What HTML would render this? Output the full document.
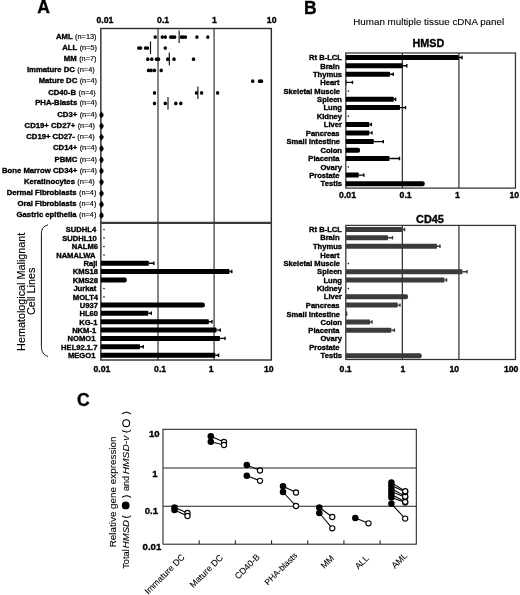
<!DOCTYPE html>
<html lang="en">
<head>
<meta charset="utf-8">
<title>Figure</title>
<style>
html,body{margin:0;padding:0;background:#fff;}
body{width:520px;height:595px;overflow:hidden;}
svg{display:block;font-family:"Liberation Sans", Arial, sans-serif;will-change:transform;}
</style>
</head>
<body>
<svg width="520" height="595" viewBox="0 0 520 595">
<defs><filter id="soft" x="0" y="0" width="520" height="595" filterUnits="userSpaceOnUse"><feGaussianBlur stdDeviation="0.45"/></filter></defs>
<rect x="0" y="0" width="520" height="595" fill="#fff"/>
<g filter="url(#soft)">
<text x="37.3" y="12.7" font-size="17.5" text-anchor="start" font-weight="bold" fill="#000"  stroke="#000" stroke-width="0.35">A</text>
<text x="96.5" y="23.1" font-size="8.7" text-anchor="start" font-weight="bold" fill="#000"  stroke="#000" stroke-width="0.35">0.01</text>
<text x="157.1" y="23.1" font-size="8.7" text-anchor="start" font-weight="bold" fill="#000"  stroke="#000" stroke-width="0.35">0.1</text>
<text x="212.1" y="23.1" font-size="8.7" text-anchor="start" font-weight="bold" fill="#000"  stroke="#000" stroke-width="0.35">1</text>
<text x="266.8" y="23.1" font-size="8.7" text-anchor="start" font-weight="bold" fill="#000"  stroke="#000" stroke-width="0.35">10</text>
<text x="93.5" y="372.2" font-size="8.7" text-anchor="start" font-weight="bold" fill="#000"  stroke="#000" stroke-width="0.35">0.01</text>
<text x="154.1" y="372.2" font-size="8.7" text-anchor="start" font-weight="bold" fill="#000"  stroke="#000" stroke-width="0.35">0.1</text>
<text x="208.8" y="372.2" font-size="8.7" text-anchor="start" font-weight="bold" fill="#000"  stroke="#000" stroke-width="0.35">1</text>
<text x="264" y="372.2" font-size="8.7" text-anchor="start" font-weight="bold" fill="#000"  stroke="#000" stroke-width="0.35">10</text>
<g stroke="#5c5c5c" stroke-width="1.5" fill="none">
<line x1="158.0" y1="28.5" x2="158.0" y2="360"/>
<line x1="214.1" y1="28.5" x2="214.1" y2="360"/>
</g>
<rect x="100.85" y="28.5" width="170.50000000000003" height="331.5" stroke="#2a2a2a" stroke-width="1.4" fill="none"/>
<line x1="100.85" y1="222.8" x2="271.35" y2="222.8" stroke="#3a3a3a" stroke-width="2.2"/>
<text x="96.5" y="39.2" font-size="7.6" text-anchor="end"><tspan font-weight="bold" stroke="#000" stroke-width="0.35" font-size="7.72">AML</tspan><tspan font-size="7.35" dx="2.4" stroke="#000" stroke-width="0.15">(n=13)</tspan></text>
<text x="97" y="50.2" font-size="7.6" text-anchor="end"><tspan font-weight="bold" stroke="#000" stroke-width="0.35" font-size="7.72">ALL</tspan><tspan font-size="7.35" dx="2.4" stroke="#000" stroke-width="0.15">(n=5)</tspan></text>
<text x="96.5" y="61.2" font-size="7.6" text-anchor="end"><tspan font-weight="bold" stroke="#000" stroke-width="0.35" font-size="7.72">MM</tspan><tspan font-size="7.35" dx="2.4" stroke="#000" stroke-width="0.15">(n=7)</tspan></text>
<text x="94.7" y="72.2" font-size="7.6" text-anchor="end"><tspan font-weight="bold" stroke="#000" stroke-width="0.35" font-size="7.72">Immature DC</tspan><tspan font-size="7.35" dx="2.4" stroke="#000" stroke-width="0.15">(n=4)</tspan></text>
<text x="97" y="83.4" font-size="7.6" text-anchor="end"><tspan font-weight="bold" stroke="#000" stroke-width="0.35" font-size="7.72">Mature DC</tspan><tspan font-size="7.35" dx="2.4" stroke="#000" stroke-width="0.15">(n=4)</tspan></text>
<text x="95.8" y="94.5" font-size="7.6" text-anchor="end"><tspan font-weight="bold" stroke="#000" stroke-width="0.35" font-size="7.72">CD40-B</tspan><tspan font-size="7.35" dx="2.4" stroke="#000" stroke-width="0.15">(n=4)</tspan></text>
<text x="97" y="105.4" font-size="7.6" text-anchor="end"><tspan font-weight="bold" stroke="#000" stroke-width="0.35" font-size="7.72">PHA-Blasts</tspan><tspan font-size="7.35" dx="2.4" stroke="#000" stroke-width="0.15">(n=4)</tspan></text>
<text x="97" y="116.8" font-size="7.6" text-anchor="end"><tspan font-weight="bold" stroke="#000" stroke-width="0.35" font-size="7.72">CD3+</tspan><tspan font-size="7.35" dx="2.4" stroke="#000" stroke-width="0.15">(n=4)</tspan></text>
<text x="95" y="127.9" font-size="7.6" text-anchor="end"><tspan font-weight="bold" stroke="#000" stroke-width="0.35" font-size="7.72">CD19+ CD27+</tspan><tspan font-size="7.35" dx="2.4" stroke="#000" stroke-width="0.15">(n=4)</tspan></text>
<text x="94.7" y="139.0" font-size="7.6" text-anchor="end"><tspan font-weight="bold" stroke="#000" stroke-width="0.35" font-size="7.72">CD19+ CD27-</tspan><tspan font-size="7.35" dx="2.4" stroke="#000" stroke-width="0.15">(n=4)</tspan></text>
<text x="97" y="150.39999999999998" font-size="7.6" text-anchor="end"><tspan font-weight="bold" stroke="#000" stroke-width="0.35" font-size="7.72">CD14+</tspan><tspan font-size="7.35" dx="2.4" stroke="#000" stroke-width="0.15">(n=4)</tspan></text>
<text x="97" y="161.6" font-size="7.6" text-anchor="end"><tspan font-weight="bold" stroke="#000" stroke-width="0.35" font-size="7.72">PBMC</tspan><tspan font-size="7.35" dx="2.4" stroke="#000" stroke-width="0.15">(n=4)</tspan></text>
<text x="97" y="172.79999999999998" font-size="7.6" text-anchor="end"><tspan font-weight="bold" stroke="#000" stroke-width="0.35" font-size="7.72">Bone Marrow CD34+</tspan><tspan font-size="7.35" dx="2.4" stroke="#000" stroke-width="0.15">(n=4)</tspan></text>
<text x="94.7" y="184.0" font-size="7.6" text-anchor="end"><tspan font-weight="bold" stroke="#000" stroke-width="0.35" font-size="7.72">Keratinocytes</tspan><tspan font-size="7.35" dx="2.4" stroke="#000" stroke-width="0.15">(n=4)</tspan></text>
<text x="96.4" y="195.2" font-size="7.6" text-anchor="end"><tspan font-weight="bold" stroke="#000" stroke-width="0.35" font-size="7.72">Dermal Fibroblasts</tspan><tspan font-size="7.35" dx="2.4" stroke="#000" stroke-width="0.15">(n=4)</tspan></text>
<text x="96.4" y="206.2" font-size="7.6" text-anchor="end"><tspan font-weight="bold" stroke="#000" stroke-width="0.35" font-size="7.72">Oral Fibroblasts</tspan><tspan font-size="7.35" dx="2.4" stroke="#000" stroke-width="0.15">(n=4)</tspan></text>
<text x="96.4" y="217.2" font-size="7.6" text-anchor="end"><tspan font-weight="bold" stroke="#000" stroke-width="0.35" font-size="7.72">Gastric epithelia</tspan><tspan font-size="7.35" dx="2.4" stroke="#000" stroke-width="0.15">(n=4)</tspan></text>
<g fill="#000">
<ellipse cx="155.2" cy="37.1" rx="1.7" ry="1.85"/>
<ellipse cx="162.3" cy="37.1" rx="1.7" ry="1.85"/>
<ellipse cx="165.3" cy="37.1" rx="1.7" ry="1.85"/>
<ellipse cx="170.7" cy="37.1" rx="1.7" ry="1.85"/>
<ellipse cx="172.7" cy="37.1" rx="1.7" ry="1.85"/>
<ellipse cx="174.7" cy="37.1" rx="1.7" ry="1.85"/>
<ellipse cx="181.4" cy="37.1" rx="1.7" ry="1.85"/>
<ellipse cx="183.2" cy="37.1" rx="1.7" ry="1.85"/>
<ellipse cx="185.5" cy="37.1" rx="1.7" ry="1.85"/>
<ellipse cx="196.9" cy="37.1" rx="1.7" ry="1.85"/>
<ellipse cx="207.8" cy="37.1" rx="1.7" ry="1.85"/>
<ellipse cx="138.8" cy="48" rx="1.7" ry="1.85"/>
<ellipse cx="140.6" cy="48" rx="1.7" ry="1.85"/>
<ellipse cx="145.5" cy="48" rx="1.7" ry="1.85"/>
<ellipse cx="147.5" cy="48" rx="1.7" ry="1.85"/>
<ellipse cx="165.3" cy="48" rx="1.7" ry="1.85"/>
<ellipse cx="147.8" cy="59.2" rx="1.7" ry="1.85"/>
<ellipse cx="151.8" cy="59.2" rx="1.7" ry="1.85"/>
<ellipse cx="156.5" cy="59.2" rx="1.7" ry="1.85"/>
<ellipse cx="158.5" cy="59.2" rx="1.7" ry="1.85"/>
<ellipse cx="167.7" cy="59.2" rx="1.7" ry="1.85"/>
<ellipse cx="174" cy="59.2" rx="1.7" ry="1.85"/>
<ellipse cx="193.5" cy="59.2" rx="1.7" ry="1.85"/>
<ellipse cx="148.5" cy="70.4" rx="1.7" ry="1.85"/>
<ellipse cx="151.2" cy="70.4" rx="1.7" ry="1.85"/>
<ellipse cx="154.5" cy="70.4" rx="1.7" ry="1.85"/>
<ellipse cx="161.2" cy="70.4" rx="1.7" ry="1.85"/>
<ellipse cx="252.7" cy="81.2" rx="1.7" ry="1.85"/>
<ellipse cx="259.6" cy="81.2" rx="1.7" ry="1.85"/>
<ellipse cx="261.5" cy="81.2" rx="1.7" ry="1.85"/>
<ellipse cx="154.5" cy="92.9" rx="1.7" ry="1.85"/>
<ellipse cx="196.5" cy="92.9" rx="1.7" ry="1.85"/>
<ellipse cx="201.6" cy="92.9" rx="1.7" ry="1.85"/>
<ellipse cx="217.6" cy="92.9" rx="1.7" ry="1.85"/>
<ellipse cx="154.5" cy="103.4" rx="1.7" ry="1.85"/>
<ellipse cx="165.3" cy="103.4" rx="1.7" ry="1.85"/>
<ellipse cx="175.8" cy="103.4" rx="1.7" ry="1.85"/>
<ellipse cx="180.8" cy="103.4" rx="1.7" ry="1.85"/>
</g>
<g stroke="#111" stroke-width="1.15">
<line x1="179.1" y1="30.6" x2="179.1" y2="43.1"/>
<line x1="150.5" y1="41.5" x2="150.5" y2="54"/>
<line x1="169.3" y1="52.7" x2="169.3" y2="65.2"/>
<line x1="197.9" y1="86.4" x2="197.9" y2="98.9"/>
<line x1="168" y1="96.9" x2="168" y2="109.4"/>
</g>
<g fill="#000">
<path d="M101.5 111.5 L102.2 112.4 L103.5 114.1 L103.5 115.9 L102.2 117.6 L101.5 118.5 L100.8 117.6 L99.5 115.9 L99.5 114.1 L100.8 112.4 Z"/>
<path d="M101.5 122.60000000000001 L102.2 123.50000000000001 L103.5 125.2 L103.5 127.00000000000001 L102.2 128.70000000000002 L101.5 129.60000000000002 L100.8 128.70000000000002 L99.5 127.00000000000001 L99.5 125.2 L100.8 123.50000000000001 Z"/>
<path d="M101.5 133.70000000000002 L102.2 134.60000000000002 L103.5 136.3 L103.5 138.10000000000002 L102.2 139.8 L101.5 140.70000000000002 L100.8 139.8 L99.5 138.10000000000002 L99.5 136.3 L100.8 134.60000000000002 Z"/>
<path d="M101.5 145.1 L102.2 146.0 L103.5 147.7 L103.5 149.5 L102.2 151.2 L101.5 152.1 L100.8 151.2 L99.5 149.5 L99.5 147.7 L100.8 146.0 Z"/>
<path d="M101.5 156.3 L102.2 157.20000000000002 L103.5 158.9 L103.5 160.70000000000002 L102.2 162.4 L101.5 163.3 L100.8 162.4 L99.5 160.70000000000002 L99.5 158.9 L100.8 157.20000000000002 Z"/>
<path d="M101.5 167.5 L102.2 168.4 L103.5 170.1 L103.5 171.9 L102.2 173.6 L101.5 174.5 L100.8 173.6 L99.5 171.9 L99.5 170.1 L100.8 168.4 Z"/>
<path d="M101.5 178.70000000000002 L102.2 179.60000000000002 L103.5 181.3 L103.5 183.10000000000002 L102.2 184.8 L101.5 185.70000000000002 L100.8 184.8 L99.5 183.10000000000002 L99.5 181.3 L100.8 179.60000000000002 Z"/>
<path d="M101.5 189.9 L102.2 190.8 L103.5 192.5 L103.5 194.3 L102.2 196.0 L101.5 196.9 L100.8 196.0 L99.5 194.3 L99.5 192.5 L100.8 190.8 Z"/>
<path d="M101.5 200.9 L102.2 201.8 L103.5 203.5 L103.5 205.3 L102.2 207.0 L101.5 207.9 L100.8 207.0 L99.5 205.3 L99.5 203.5 L100.8 201.8 Z"/>
<path d="M101.5 211.9 L102.2 212.8 L103.5 214.5 L103.5 216.3 L102.2 218.0 L101.5 218.9 L100.8 218.0 L99.5 216.3 L99.5 214.5 L100.8 212.8 Z"/>
</g>
<text x="96.2" y="232.10000000000002" font-size="7.6" text-anchor="end" font-weight="bold" fill="#000"  stroke="#000" stroke-width="0.35">SUDHL4</text>
<rect x="103.25" y="228.75" width="1.5" height="1.5" rx="0.4" fill="#1a1a1a"/>
<text x="96.80000000000001" y="240.5" font-size="7.6" text-anchor="end" font-weight="bold" fill="#000"  stroke="#000" stroke-width="0.35">SUDHL10</text>
<rect x="103.25" y="237.14999999999998" width="1.5" height="1.5" rx="0.4" fill="#1a1a1a"/>
<text x="98.0" y="249.10000000000002" font-size="7.6" text-anchor="end" font-weight="bold" fill="#000"  stroke="#000" stroke-width="0.35">NALM6</text>
<rect x="103.25" y="245.75" width="1.5" height="1.5" rx="0.4" fill="#1a1a1a"/>
<text x="95.4" y="257.5" font-size="7.6" text-anchor="end" font-weight="bold" fill="#000"  stroke="#000" stroke-width="0.35">NAMALWA</text>
<rect x="103.25" y="254.14999999999998" width="1.5" height="1.5" rx="0.4" fill="#1a1a1a"/>
<text x="97.4" y="266.0" font-size="7.6" text-anchor="end" font-weight="bold" fill="#000"  stroke="#000" stroke-width="0.35">Raji</text>
<rect x="100.85" y="260.7" width="47.95000000000002" height="5.0" rx="0.8" fill="#000"/>
<path d="M148.8 263.2 H153.8 M153.8 261.5 V264.9" stroke="#000" stroke-width="1.4" fill="none"/>
<text x="98.0" y="274.3" font-size="7.6" text-anchor="end" font-weight="bold" fill="#000"  stroke="#000" stroke-width="0.35">KMS18</text>
<rect x="100.85" y="269.0" width="128.65" height="5.0" rx="0.8" fill="#000"/>
<path d="M229.5 271.5 H231.8 M231.8 269.8 V273.2" stroke="#000" stroke-width="1.4" fill="none"/>
<text x="98.0" y="282.7" font-size="7.6" text-anchor="end" font-weight="bold" fill="#000"  stroke="#000" stroke-width="0.35">KMS28</text>
<path d="M100.85 277.4 H124.6 Q126.8 277.4 126.8 279.59999999999997 V280.2 Q126.8 282.4 124.6 282.4 H100.85 Z" fill="#000"/>
<text x="96.2" y="291.1" font-size="7.6" text-anchor="end" font-weight="bold" fill="#000"  stroke="#000" stroke-width="0.35">Jurkat</text>
<rect x="103.25" y="287.75" width="1.5" height="1.5" rx="0.4" fill="#1a1a1a"/>
<text x="98.0" y="299.5" font-size="7.6" text-anchor="end" font-weight="bold" fill="#000"  stroke="#000" stroke-width="0.35">MOLT4</text>
<rect x="103.25" y="296.15" width="1.5" height="1.5" rx="0.4" fill="#1a1a1a"/>
<text x="98.0" y="307.8" font-size="7.6" text-anchor="end" font-weight="bold" fill="#000"  stroke="#000" stroke-width="0.35">U937</text>
<path d="M100.85 302.5 H202.70000000000002 Q204.9 302.5 204.9 304.7 V305.3 Q204.9 307.5 202.70000000000002 307.5 H100.85 Z" fill="#000"/>
<text x="98.0" y="316.1" font-size="7.6" text-anchor="end" font-weight="bold" fill="#000"  stroke="#000" stroke-width="0.35">HL60</text>
<rect x="100.85" y="310.8" width="47.45000000000002" height="5.0" rx="0.8" fill="#000"/>
<path d="M148.3 313.3 H151.3 M151.3 311.6 V315.0" stroke="#000" stroke-width="1.4" fill="none"/>
<text x="97.4" y="324.5" font-size="7.6" text-anchor="end" font-weight="bold" fill="#000"  stroke="#000" stroke-width="0.35">KG-1</text>
<rect x="100.85" y="319.2" width="108.05000000000001" height="5.0" rx="0.8" fill="#000"/>
<path d="M208.9 321.7 H212 M212 320.0 V323.4" stroke="#000" stroke-width="1.4" fill="none"/>
<text x="96.2" y="332.90000000000003" font-size="7.6" text-anchor="end" font-weight="bold" fill="#000"  stroke="#000" stroke-width="0.35">NKM-1</text>
<rect x="100.85" y="327.6" width="115.75" height="5.0" rx="0.8" fill="#000"/>
<path d="M216.6 330.1 H220.3 M220.3 328.40000000000003 V331.8" stroke="#000" stroke-width="1.4" fill="none"/>
<text x="95.4" y="341.2" font-size="7.6" text-anchor="end" font-weight="bold" fill="#000"  stroke="#000" stroke-width="0.35">NOMO1</text>
<rect x="100.85" y="335.9" width="119.15" height="5.0" rx="0.8" fill="#000"/>
<path d="M220 338.4 H225 M225 336.7 V340.09999999999997" stroke="#000" stroke-width="1.4" fill="none"/>
<text x="97.4" y="349.6" font-size="7.6" text-anchor="end" font-weight="bold" fill="#000"  stroke="#000" stroke-width="0.35">HEL92.1.7</text>
<rect x="100.85" y="344.3" width="39.150000000000006" height="5.0" rx="0.8" fill="#000"/>
<path d="M140 346.8 H143.3 M143.3 345.1 V348.5" stroke="#000" stroke-width="1.4" fill="none"/>
<text x="95.4" y="358.0" font-size="7.6" text-anchor="end" font-weight="bold" fill="#000"  stroke="#000" stroke-width="0.35">MEGO1</text>
<rect x="100.85" y="352.7" width="114.45000000000002" height="5.0" rx="0.8" fill="#000"/>
<path d="M215.3 355.2 H218.6 M218.6 353.5 V356.9" stroke="#000" stroke-width="1.4" fill="none"/>
<text transform="translate(25,291.8) rotate(-90)" font-size="10.8" text-anchor="middle" stroke="#000" stroke-width="0.15">Hematological Malignant</text>
<text transform="translate(35,291.4) rotate(-90)" font-size="10.8" text-anchor="middle" stroke="#000" stroke-width="0.15">Cell Lines</text>
<path d="M48 224.9 C44 226 41.4 228.5 41.4 233.5 L41.4 346.5 C41.4 352 44 355.2 48 356.4" stroke="#111" stroke-width="1" fill="none"/>
<text x="304" y="13.5" font-size="17.5" text-anchor="start" font-weight="bold" fill="#000"  stroke="#000" stroke-width="0.35">B</text>
<text x="353.3" y="25.2" font-size="9.8" text-anchor="start" font-weight="normal" fill="#000" stroke="#000" stroke-width="0.12">Human multiple tissue cDNA panel</text>
<text x="428.4" y="47.2" font-size="10.8" text-anchor="middle" font-weight="bold" fill="#000"  stroke="#000" stroke-width="0.35">HMSD</text>
<text x="430" y="222.6" font-size="10.9" text-anchor="middle" font-weight="bold" fill="#000"  stroke="#000" stroke-width="0.35">CD45</text>
<g stroke="#333" stroke-width="1.25" fill="none">
<rect x="345.8" y="53" width="169.65000000000003" height="135.1"/>
<line x1="402.35" y1="53" x2="402.35" y2="188.1"/>
<line x1="458.9" y1="53" x2="458.9" y2="188.1"/>
</g>
<g stroke="#333" stroke-width="1.25" fill="none">
<rect x="345.8" y="225.4" width="169.65000000000003" height="134.1"/>
<line x1="402.35" y1="225.4" x2="402.35" y2="359.5"/>
<line x1="458.9" y1="225.4" x2="458.9" y2="359.5"/>
</g>
<text x="342" y="60.2" font-size="7.6" text-anchor="end" font-weight="bold" fill="#000"  stroke="#000" stroke-width="0.35">Rt B-LCL</text>
<rect x="345.8" y="55.0" width="113.0" height="5.0" rx="0.8" fill="#000"/>
<path d="M458.8 57.5 H462 M462 55.8 V59.2" stroke="#000" stroke-width="1.4" fill="none"/>
<text x="339.6" y="68.5" font-size="7.6" text-anchor="end" font-weight="bold" fill="#000"  stroke="#000" stroke-width="0.35">Brain</text>
<rect x="345.8" y="63.3" width="56.69999999999999" height="5.0" rx="0.8" fill="#000"/>
<path d="M402.5 65.8 H406.8 M406.8 64.1 V67.5" stroke="#000" stroke-width="1.4" fill="none"/>
<text x="342" y="76.9" font-size="7.6" text-anchor="end" font-weight="bold" fill="#000"  stroke="#000" stroke-width="0.35">Thymus</text>
<rect x="345.8" y="71.7" width="44.19999999999999" height="5.0" rx="0.8" fill="#000"/>
<path d="M390 74.2 H393.3 M393.3 72.5 V75.9" stroke="#000" stroke-width="1.4" fill="none"/>
<text x="339.6" y="85.10000000000001" font-size="7.6" text-anchor="end" font-weight="bold" fill="#000"  stroke="#000" stroke-width="0.35">Heart</text>
<rect x="345.8" y="79.9" width="0.8000000000000114" height="5.0" rx="0.8" fill="#000"/>
<path d="M346.6 82.4 H352.5 M352.5 80.7 V84.10000000000001" stroke="#000" stroke-width="1.4" fill="none"/>
<text x="340.1" y="93.5" font-size="7.6" text-anchor="end" font-weight="bold" fill="#000"  stroke="#000" stroke-width="0.35">Skeletal Muscle</text>
<rect x="347.6" y="90.25" width="1.5" height="1.5" rx="0.4" fill="#1a1a1a"/>
<text x="342" y="101.9" font-size="7.6" text-anchor="end" font-weight="bold" fill="#000"  stroke="#000" stroke-width="0.35">Spleen</text>
<rect x="345.8" y="96.7" width="48.0" height="5.0" rx="0.8" fill="#000"/>
<path d="M393.8 99.2 H395.6 M395.6 97.5 V100.9" stroke="#000" stroke-width="1.4" fill="none"/>
<text x="342" y="110.3" font-size="7.6" text-anchor="end" font-weight="bold" fill="#000"  stroke="#000" stroke-width="0.35">Lung</text>
<rect x="345.8" y="105.1" width="54.19999999999999" height="5.0" rx="0.8" fill="#000"/>
<path d="M400 107.6 H405.5 M405.5 105.89999999999999 V109.3" stroke="#000" stroke-width="1.4" fill="none"/>
<text x="342" y="118.7" font-size="7.6" text-anchor="end" font-weight="bold" fill="#000"  stroke="#000" stroke-width="0.35">Kidney</text>
<rect x="347.6" y="115.45" width="1.5" height="1.5" rx="0.4" fill="#1a1a1a"/>
<text x="342" y="127.2" font-size="7.6" text-anchor="end" font-weight="bold" fill="#000"  stroke="#000" stroke-width="0.35">Liver</text>
<rect x="345.8" y="122.0" width="23.5" height="5.0" rx="0.8" fill="#000"/>
<path d="M369.3 124.5 H371.3 M371.3 122.8 V126.2" stroke="#000" stroke-width="1.4" fill="none"/>
<text x="339.6" y="135.6" font-size="7.6" text-anchor="end" font-weight="bold" fill="#000"  stroke="#000" stroke-width="0.35">Pancreas</text>
<rect x="345.8" y="130.4" width="23.5" height="5.0" rx="0.8" fill="#000"/>
<path d="M369.3 132.9 H372 M372 131.20000000000002 V134.6" stroke="#000" stroke-width="1.4" fill="none"/>
<text x="340.1" y="144.29999999999998" font-size="7.6" text-anchor="end" font-weight="bold" fill="#000"  stroke="#000" stroke-width="0.35">Small Intestine</text>
<rect x="345.8" y="139.1" width="28.0" height="5.0" rx="0.8" fill="#000"/>
<path d="M373.8 141.6 H383.3 M383.3 139.9 V143.29999999999998" stroke="#000" stroke-width="1.4" fill="none"/>
<text x="342" y="152.89999999999998" font-size="7.6" text-anchor="end" font-weight="bold" fill="#000"  stroke="#000" stroke-width="0.35">Colon</text>
<path d="M345.8 147.7 H357.90000000000003 Q360.1 147.7 360.1 149.89999999999998 V150.5 Q360.1 152.7 357.90000000000003 152.7 H345.8 Z" fill="#000"/>
<text x="339.6" y="161.2" font-size="7.6" text-anchor="end" font-weight="bold" fill="#000"  stroke="#000" stroke-width="0.35">Placenta</text>
<rect x="345.8" y="156.0" width="43.69999999999999" height="5.0" rx="0.8" fill="#000"/>
<path d="M389.5 158.5 H399.5 M399.5 156.8 V160.2" stroke="#000" stroke-width="1.4" fill="none"/>
<text x="342" y="169.5" font-size="7.6" text-anchor="end" font-weight="bold" fill="#000"  stroke="#000" stroke-width="0.35">Ovary</text>
<rect x="347.6" y="166.25" width="1.5" height="1.5" rx="0.4" fill="#1a1a1a"/>
<text x="339.6" y="177.79999999999998" font-size="7.6" text-anchor="end" font-weight="bold" fill="#000"  stroke="#000" stroke-width="0.35">Prostate</text>
<rect x="345.8" y="172.6" width="13.0" height="5.0" rx="0.8" fill="#000"/>
<path d="M358.8 175.1 H363.8 M363.8 173.4 V176.79999999999998" stroke="#000" stroke-width="1.4" fill="none"/>
<text x="342" y="186.39999999999998" font-size="7.6" text-anchor="end" font-weight="bold" fill="#000"  stroke="#000" stroke-width="0.35">Testis</text>
<path d="M345.8 181.2 H422.6 Q424.8 181.2 424.8 183.39999999999998 V184.0 Q424.8 186.2 422.6 186.2 H345.8 Z" fill="#000"/>
<text x="342" y="232.2" font-size="7.6" text-anchor="end" font-weight="bold" fill="#000"  stroke="#000" stroke-width="0.35">Rt B-LCL</text>
<rect x="345.8" y="227.0" width="56.19999999999999" height="5.0" rx="0.8" fill="#3a3a3a"/>
<path d="M402 229.5 H404.6 M404.6 227.8 V231.2" stroke="#3a3a3a" stroke-width="1.4" fill="none"/>
<text x="339.6" y="240.39999999999998" font-size="7.6" text-anchor="end" font-weight="bold" fill="#000"  stroke="#000" stroke-width="0.35">Brain</text>
<rect x="345.8" y="235.2" width="42.19999999999999" height="5.0" rx="0.8" fill="#3a3a3a"/>
<path d="M388 237.7 H392.5 M392.5 236.0 V239.39999999999998" stroke="#3a3a3a" stroke-width="1.4" fill="none"/>
<text x="342" y="248.89999999999998" font-size="7.6" text-anchor="end" font-weight="bold" fill="#000"  stroke="#000" stroke-width="0.35">Thymus</text>
<rect x="345.8" y="243.7" width="91.19999999999999" height="5.0" rx="0.8" fill="#3a3a3a"/>
<path d="M437 246.2 H440 M440 244.5 V247.89999999999998" stroke="#3a3a3a" stroke-width="1.4" fill="none"/>
<text x="339.6" y="257.5" font-size="7.6" text-anchor="end" font-weight="bold" fill="#000"  stroke="#000" stroke-width="0.35">Heart</text>
<text x="340.1" y="265.9" font-size="7.6" text-anchor="end" font-weight="bold" fill="#000"  stroke="#000" stroke-width="0.35">Skeletal Muscle</text>
<rect x="347.6" y="262.65" width="1.5" height="1.5" rx="0.4" fill="#1a1a1a"/>
<text x="342" y="274.4" font-size="7.6" text-anchor="end" font-weight="bold" fill="#000"  stroke="#000" stroke-width="0.35">Spleen</text>
<rect x="345.8" y="269.2" width="116.69999999999999" height="5.0" rx="0.8" fill="#3a3a3a"/>
<path d="M462.5 271.7 H467 M467 270.0 V273.4" stroke="#3a3a3a" stroke-width="1.4" fill="none"/>
<text x="342" y="282.7" font-size="7.6" text-anchor="end" font-weight="bold" fill="#000"  stroke="#000" stroke-width="0.35">Lung</text>
<rect x="345.8" y="277.5" width="98.69999999999999" height="5.0" rx="0.8" fill="#3a3a3a"/>
<path d="M444.5 280 H446.6 M446.6 278.3 V281.7" stroke="#3a3a3a" stroke-width="1.4" fill="none"/>
<text x="342" y="291.0" font-size="7.6" text-anchor="end" font-weight="bold" fill="#000"  stroke="#000" stroke-width="0.35">Kidney</text>
<rect x="347.6" y="287.75" width="1.5" height="1.5" rx="0.4" fill="#1a1a1a"/>
<text x="342" y="299.4" font-size="7.6" text-anchor="end" font-weight="bold" fill="#000"  stroke="#000" stroke-width="0.35">Liver</text>
<path d="M345.8 294.2 H405.90000000000003 Q408.1 294.2 408.1 296.4 V297.0 Q408.1 299.2 405.90000000000003 299.2 H345.8 Z" fill="#3a3a3a"/>
<text x="339.6" y="307.8" font-size="7.6" text-anchor="end" font-weight="bold" fill="#000"  stroke="#000" stroke-width="0.35">Pancreas</text>
<rect x="345.8" y="302.6" width="52.0" height="5.0" rx="0.8" fill="#3a3a3a"/>
<path d="M397.8 305.1 H400 M400 303.40000000000003 V306.8" stroke="#3a3a3a" stroke-width="1.4" fill="none"/>
<text x="340.1" y="316.5" font-size="7.6" text-anchor="end" font-weight="bold" fill="#000"  stroke="#000" stroke-width="0.35">Small Intestine</text>
<rect x="345.8" y="311.3" width="1.5" height="5.0" rx="0.8" fill="#3a3a3a"/>
<text x="342" y="324.7" font-size="7.6" text-anchor="end" font-weight="bold" fill="#000"  stroke="#000" stroke-width="0.35">Colon</text>
<rect x="345.8" y="319.5" width="24.19999999999999" height="5.0" rx="0.8" fill="#3a3a3a"/>
<path d="M370 322 H372 M372 320.3 V323.7" stroke="#3a3a3a" stroke-width="1.4" fill="none"/>
<text x="339.6" y="332.9" font-size="7.6" text-anchor="end" font-weight="bold" fill="#000"  stroke="#000" stroke-width="0.35">Placenta</text>
<rect x="345.8" y="327.7" width="45.5" height="5.0" rx="0.8" fill="#3a3a3a"/>
<path d="M391.3 330.2 H394.4 M394.4 328.5 V331.9" stroke="#3a3a3a" stroke-width="1.4" fill="none"/>
<text x="342" y="341.4" font-size="7.6" text-anchor="end" font-weight="bold" fill="#000"  stroke="#000" stroke-width="0.35">Ovary</text>
<text x="339.6" y="350.0" font-size="7.6" text-anchor="end" font-weight="bold" fill="#000"  stroke="#000" stroke-width="0.35">Prostate</text>
<text x="342" y="358.4" font-size="7.6" text-anchor="end" font-weight="bold" fill="#000"  stroke="#000" stroke-width="0.35">Testis</text>
<path d="M345.8 353.2 H419.6 Q421.8 353.2 421.8 355.4 V356.0 Q421.8 358.2 419.6 358.2 H345.8 Z" fill="#3a3a3a"/>
<text x="339.1" y="197.8" font-size="8.7" text-anchor="start" font-weight="bold" fill="#000"  stroke="#000" stroke-width="0.35">0.01</text>
<text x="399.6" y="197.8" font-size="8.7" text-anchor="start" font-weight="bold" fill="#000"  stroke="#000" stroke-width="0.35">0.1</text>
<text x="455.1" y="197.8" font-size="8.7" text-anchor="start" font-weight="bold" fill="#000"  stroke="#000" stroke-width="0.35">1</text>
<text x="509.4" y="197.8" font-size="8.7" text-anchor="start" font-weight="bold" fill="#000"  stroke="#000" stroke-width="0.35">10</text>
<text x="339.6" y="372.4" font-size="8.7" text-anchor="start" font-weight="bold" fill="#000"  stroke="#000" stroke-width="0.35">0.1</text>
<text x="400.6" y="372.4" font-size="8.7" text-anchor="start" font-weight="bold" fill="#000"  stroke="#000" stroke-width="0.35">1</text>
<text x="449.4" y="372.4" font-size="8.7" text-anchor="start" font-weight="bold" fill="#000"  stroke="#000" stroke-width="0.35">10</text>
<text x="503.9" y="372.4" font-size="8.7" text-anchor="start" font-weight="bold" fill="#000"  stroke="#000" stroke-width="0.35">100</text>
<text x="77.1" y="406.2" font-size="17.5" text-anchor="start" font-weight="bold" fill="#000"  stroke="#000" stroke-width="0.35">C</text>
<g stroke="#222" stroke-width="1.05" fill="none">
<rect x="163" y="429.3" width="253.3" height="114.90000000000003"/>
<line x1="163" y1="467.9" x2="416.3" y2="467.9"/>
<line x1="163" y1="506.2" x2="416.3" y2="506.2"/>
<line x1="199.19" y1="544.2" x2="199.19" y2="540.2"/>
<line x1="235.37" y1="544.2" x2="235.37" y2="540.2"/>
<line x1="271.56" y1="544.2" x2="271.56" y2="540.2"/>
<line x1="307.74" y1="544.2" x2="307.74" y2="540.2"/>
<line x1="343.93" y1="544.2" x2="343.93" y2="540.2"/>
<line x1="380.11" y1="544.2" x2="380.11" y2="540.2"/>
</g>
<text x="159.6" y="437.4" font-size="9.6" text-anchor="end" font-weight="bold" fill="#000"  stroke="#000" stroke-width="0.35">10</text>
<text x="157.6" y="477" font-size="9.6" text-anchor="end" font-weight="bold" fill="#000"  stroke="#000" stroke-width="0.35">1</text>
<text x="158" y="514.4" font-size="9.6" text-anchor="end" font-weight="bold" fill="#000"  stroke="#000" stroke-width="0.35">0.1</text>
<text x="161.3" y="550" font-size="9.6" text-anchor="end" font-weight="bold" fill="#000"  stroke="#000" stroke-width="0.35">0.01</text>
<text transform="translate(115.7,547.3) rotate(-90)" font-size="9.9" fill="#000" stroke="#000" stroke-width="0.1">Relative gene expression</text>
<text transform="translate(129.3,568.8) rotate(-90)" font-size="9.8" fill="#000" stroke="#000" stroke-width="0.1" textLength="19.6" lengthAdjust="spacingAndGlyphs">Total</text>
<text transform="translate(129.3,548.3) rotate(-90)" font-size="9.8" fill="#000" stroke="#000" stroke-width="0.1" font-style="italic" textLength="28.4" lengthAdjust="spacingAndGlyphs">HMSD</text>
<text transform="translate(129.3,518.6) rotate(-90)" font-size="9.8" fill="#000" stroke="#000" stroke-width="0.1">(</text>
<text transform="translate(129.3,498.1) rotate(-90)" font-size="9.8" fill="#000" stroke="#000" stroke-width="0.1">)</text>
<text transform="translate(129.3,491.1) rotate(-90)" font-size="9.8" fill="#000" stroke="#000" stroke-width="0.1" textLength="15.2" lengthAdjust="spacingAndGlyphs">and</text>
<text transform="translate(129.3,474.3) rotate(-90)" font-size="9.8" fill="#000" stroke="#000" stroke-width="0.1" font-style="italic" textLength="38.6" lengthAdjust="spacingAndGlyphs">HMSD-v</text>
<text transform="translate(129.3,432.9) rotate(-90)" font-size="9.8" fill="#000" stroke="#000" stroke-width="0.1">(</text>
<text transform="translate(129.3,414.6) rotate(-90)" font-size="9.8" fill="#000" stroke="#000" stroke-width="0.1">)</text>
<circle cx="125.7" cy="505.4" r="3.9" fill="#000"/>
<circle cx="126.2" cy="423.2" r="3.4" fill="#fff" stroke="#000" stroke-width="1.1"/>
<g stroke="#000" stroke-width="1.05">
<line x1="174.5" y1="507.5" x2="187.5" y2="513"/>
<line x1="174.5" y1="510" x2="187.5" y2="516"/>
<line x1="210.8" y1="436.3" x2="224" y2="442"/>
<line x1="210.8" y1="441.8" x2="224" y2="445"/>
<line x1="246.8" y1="465" x2="260" y2="470.5"/>
<line x1="246.8" y1="475.8" x2="260" y2="480.8"/>
<line x1="283" y1="486.3" x2="296" y2="492.5"/>
<line x1="283" y1="492" x2="296" y2="506"/>
<line x1="319.3" y1="507.5" x2="332.3" y2="517"/>
<line x1="319.3" y1="513" x2="332.3" y2="528.3"/>
<line x1="355.3" y1="518" x2="368.5" y2="523.3"/>
<line x1="391.4" y1="503.8" x2="405.2" y2="518.6"/>
<line x1="391.4" y1="497.4" x2="405.2" y2="502.6"/>
<line x1="391.4" y1="494.5" x2="405.2" y2="501.8"/>
<line x1="391.4" y1="491.5" x2="405.2" y2="497.2"/>
<line x1="391.4" y1="488.5" x2="405.2" y2="496.4"/>
<line x1="391.4" y1="485.5" x2="405.2" y2="492"/>
<line x1="391.4" y1="482.6" x2="405.2" y2="491.2"/>
</g>
<circle cx="174.5" cy="507.5" r="3.25" fill="#000"/>
<circle cx="174.5" cy="510" r="3.25" fill="#000"/>
<circle cx="210.8" cy="436.3" r="3.25" fill="#000"/>
<circle cx="210.8" cy="441.8" r="3.25" fill="#000"/>
<circle cx="246.8" cy="465" r="3.25" fill="#000"/>
<circle cx="246.8" cy="475.8" r="3.25" fill="#000"/>
<circle cx="283" cy="486.3" r="3.25" fill="#000"/>
<circle cx="283" cy="492" r="3.25" fill="#000"/>
<circle cx="319.3" cy="507.5" r="3.25" fill="#000"/>
<circle cx="319.3" cy="513" r="3.25" fill="#000"/>
<circle cx="355.3" cy="518" r="3.25" fill="#000"/>
<circle cx="391.4" cy="503.8" r="3.25" fill="#000"/>
<circle cx="391.4" cy="497.4" r="3.25" fill="#000"/>
<circle cx="391.4" cy="494.5" r="3.25" fill="#000"/>
<circle cx="391.4" cy="491.5" r="3.25" fill="#000"/>
<circle cx="391.4" cy="488.5" r="3.25" fill="#000"/>
<circle cx="391.4" cy="485.5" r="3.25" fill="#000"/>
<circle cx="391.4" cy="482.6" r="3.25" fill="#000"/>
<circle cx="187.5" cy="513" r="2.6" fill="#fff" stroke="#000" stroke-width="1.1"/>
<circle cx="187.5" cy="516" r="2.6" fill="#fff" stroke="#000" stroke-width="1.1"/>
<circle cx="224" cy="442" r="2.6" fill="#fff" stroke="#000" stroke-width="1.1"/>
<circle cx="224" cy="445" r="2.6" fill="#fff" stroke="#000" stroke-width="1.1"/>
<circle cx="260" cy="470.5" r="2.6" fill="#fff" stroke="#000" stroke-width="1.1"/>
<circle cx="260" cy="480.8" r="2.6" fill="#fff" stroke="#000" stroke-width="1.1"/>
<circle cx="296" cy="492.5" r="2.6" fill="#fff" stroke="#000" stroke-width="1.1"/>
<circle cx="296" cy="506" r="2.6" fill="#fff" stroke="#000" stroke-width="1.1"/>
<circle cx="332.3" cy="517" r="2.6" fill="#fff" stroke="#000" stroke-width="1.1"/>
<circle cx="332.3" cy="528.3" r="2.6" fill="#fff" stroke="#000" stroke-width="1.1"/>
<circle cx="368.5" cy="523.3" r="2.6" fill="#fff" stroke="#000" stroke-width="1.1"/>
<circle cx="405.2" cy="518.6" r="2.6" fill="#fff" stroke="#000" stroke-width="1.1"/>
<circle cx="405.2" cy="502.6" r="2.6" fill="#fff" stroke="#000" stroke-width="1.1"/>
<circle cx="405.2" cy="501.8" r="2.6" fill="#fff" stroke="#000" stroke-width="1.1"/>
<circle cx="405.2" cy="497.2" r="2.6" fill="#fff" stroke="#000" stroke-width="1.1"/>
<circle cx="405.2" cy="496.4" r="2.6" fill="#fff" stroke="#000" stroke-width="1.1"/>
<circle cx="405.2" cy="492" r="2.6" fill="#fff" stroke="#000" stroke-width="1.1"/>
<circle cx="405.2" cy="491.2" r="2.6" fill="#fff" stroke="#000" stroke-width="1.1"/>
<text transform="translate(185.2,557.8) rotate(-45)" font-size="8.8" text-anchor="end" fill="#000" stroke="#000" stroke-width="0.1">Immature DC</text>
<text transform="translate(223.4,558.2) rotate(-45)" font-size="8.8" text-anchor="end" fill="#000" stroke="#000" stroke-width="0.1">Mature DC</text>
<text transform="translate(260.5,557.5) rotate(-45)" font-size="8.8" text-anchor="end" fill="#000" stroke="#000" stroke-width="0.1">CD40-B</text>
<text transform="translate(297.8,556) rotate(-45)" font-size="8.45" text-anchor="end" fill="#000" stroke="#000" stroke-width="0.1">PHA-blasts</text>
<text transform="translate(334.6,558.7) rotate(-45)" font-size="8.8" text-anchor="end" fill="#000" stroke="#000" stroke-width="0.1">MM</text>
<text transform="translate(369.5,558.8) rotate(-45)" font-size="8.8" text-anchor="end" fill="#000" stroke="#000" stroke-width="0.1">ALL</text>
<text transform="translate(407.8,556.3) rotate(-45)" font-size="8.8" text-anchor="end" fill="#000" stroke="#000" stroke-width="0.1">AML</text>
</g>
</svg>
</body>
</html>
